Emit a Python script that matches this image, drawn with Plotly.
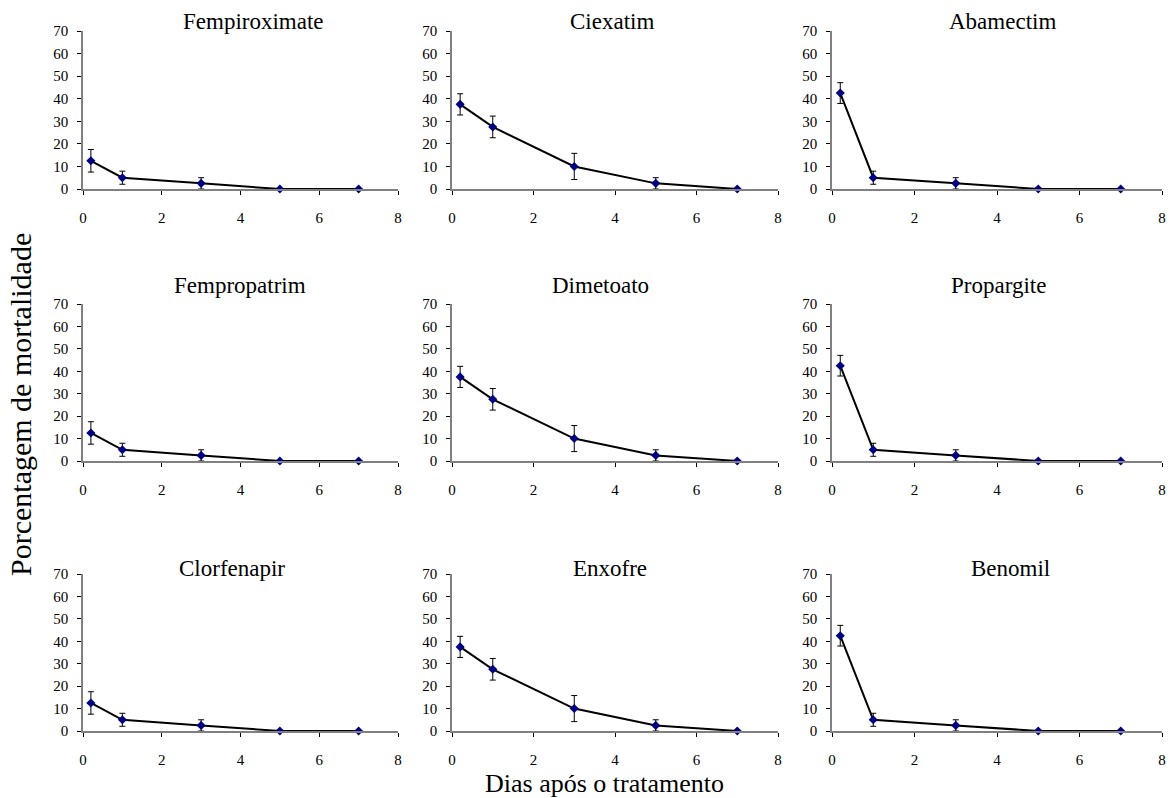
import plotly.graph_objects as go

# ---------------- data ----------------
days = [0.2, 1, 3, 5, 7]

titles = [
    "Fempiroximate", "Ciexatim", "Abamectim",
    "Fempropatrim", "Dimetoato", "Propargite",
    "Clorfenapir", "Enxofre", "Benomil",
]

fempiroximate = [12.5, 5.0, 2.5, 0.0, 0.0]
fempiroximate_err = [5.0, 2.9, 2.5, 0.0, 0.0]
ciexatim = [37.5, 27.5, 10.0, 2.5, 0.0]
ciexatim_err = [4.7, 4.8, 5.8, 2.5, 0.0]
abamectim = [42.5, 5.0, 2.5, 0.0, 0.0]
abamectim_err = [4.6, 2.9, 2.5, 0.0, 0.0]
fempropatrim = [12.5, 5.0, 2.5, 0.0, 0.0]
fempropatrim_err = [5.0, 2.9, 2.5, 0.0, 0.0]
dimetoato = [37.5, 27.5, 10.0, 2.5, 0.0]
dimetoato_err = [4.7, 4.8, 5.8, 2.5, 0.0]
propargite = [42.5, 5.0, 2.5, 0.0, 0.0]
propargite_err = [4.6, 2.9, 2.5, 0.0, 0.0]
clorfenapir = [12.5, 5.0, 2.5, 0.0, 0.0]
clorfenapir_err = [5.0, 2.9, 2.5, 0.0, 0.0]
enxofre = [37.5, 27.5, 10.0, 2.5, 0.0]
enxofre_err = [4.7, 4.8, 5.8, 2.5, 0.0]
benomil = [42.5, 5.0, 2.5, 0.0, 0.0]
benomil_err = [4.6, 2.9, 2.5, 0.0, 0.0]

series = [fempiroximate, ciexatim, abamectim,
          fempropatrim, dimetoato, propargite,
          clorfenapir, enxofre, benomil]
errors = [fempiroximate_err, ciexatim_err, abamectim_err,
          fempropatrim_err, dimetoato_err, propargite_err,
          clorfenapir_err, enxofre_err, benomil_err]

x_ticks = [0, 2, 4, 6, 8]
y_ticks = [0, 10, 20, 30, 40, 50, 60, 70]

# ---------------- layout geometry (pixels) ----------------
W, H = 1173, 798
ML, MR, MT, MB = 40, 4, 10, 12
PW, PH = W - ML - MR, H - MT - MB

col_px = [(83, 398), (452, 778), (832, 1162)]
row_px = [(31, 189), (304, 461), (574, 731)]
title_cx = [253, 612, 1002, 240, 600, 998, 232, 610, 1010]
title_cy = [22, 22, 22, 285, 285, 285, 568, 568, 568]


def px_x(p):
    return (p - ML) / PW


def px_y(p):
    return 1 - (p - MT) / PH


FONT = "Liberation Serif"
AXIS_GRAY = "#808080"

fig = go.Figure()
layout_axes = {}
annotations = []

for i in range(9):
    r, c = divmod(i, 3)
    n = i + 1
    xa = "x" if n == 1 else f"x{n}"
    ya = "y" if n == 1 else f"y{n}"
    fig.add_trace(go.Scatter(
        x=days, y=series[i],
        xaxis=xa, yaxis=ya,
        mode="lines+markers",
        line=dict(color="black", width=2),
        marker=dict(symbol="diamond", size=7, color="#000080",
                    line=dict(color="#000080", width=0)),
        error_y=dict(type="data", array=errors[i], visible=True,
                     color="black", thickness=1, width=3),
        cliponaxis=False,
        showlegend=False,
        hoverinfo="x+y",
    ))
    x0, x1 = col_px[c]
    y0, y1 = row_px[r]
    xkey = "xaxis" if n == 1 else f"xaxis{n}"
    ykey = "yaxis" if n == 1 else f"yaxis{n}"
    layout_axes[xkey] = dict(
        domain=[px_x(x0), px_x(x1)], anchor=ya, range=[0, 8],
        tickvals=x_ticks, ticks="outside", ticklen=4, tickcolor="black",
        showline=True, linecolor=AXIS_GRAY, linewidth=1.5,
        showgrid=False, zeroline=False, ticklabelstandoff=10,
        automargin=False,
        tickfont=dict(family=FONT, size=15, color="black"),
    )
    layout_axes[ykey] = dict(
        domain=[px_y(y1), px_y(y0)], anchor=xa, range=[0, 70],
        tickvals=y_ticks, ticks="outside", ticklen=4, tickcolor="black",
        showline=True, linecolor=AXIS_GRAY, linewidth=1.5,
        showgrid=False, zeroline=False, ticklabelstandoff=6,
        automargin=False,
        tickfont=dict(family=FONT, size=15, color="black"),
    )
    annotations.append(dict(
        text=titles[i], x=px_x(title_cx[i]), y=px_y(title_cy[i]),
        xref="paper", yref="paper", xanchor="center", yanchor="middle",
        showarrow=False, font=dict(family=FONT, size=23, color="black"),
    ))

annotations.append(dict(
    text="Dias após o tratamento", x=px_x(604), y=px_y(783),
    xref="paper", yref="paper", xanchor="center", yanchor="middle",
    showarrow=False, font=dict(family=FONT, size=26, color="black"),
))
annotations.append(dict(
    text="Porcentagem de mortalidade", x=px_x(20), y=px_y(405),
    xref="paper", yref="paper", xanchor="center", yanchor="middle",
    textangle=-90,
    showarrow=False, font=dict(family=FONT, size=30, color="black"),
))

fig.update_layout(
    width=W, height=H,
    margin=dict(l=ML, r=MR, t=MT, b=MB, pad=0),
    paper_bgcolor="white", plot_bgcolor="white",
    annotations=annotations,
    **layout_axes,
)

fig.write_html(
    "out.html",
    config={"displayModeBar": False},
    post_script="document.body.style.margin='0';document.body.style.padding='0';",
)
